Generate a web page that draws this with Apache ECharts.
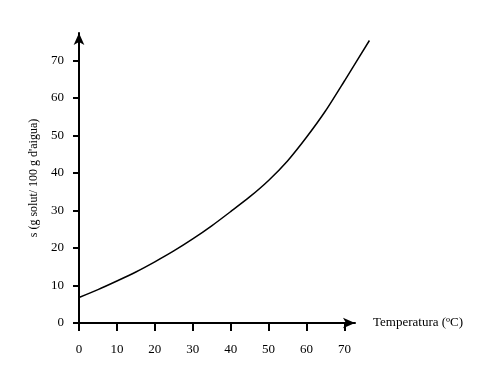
<!DOCTYPE html>
<html>
<head>
<meta charset="utf-8">
<script src="https://cdn.jsdelivr.net/npm/echarts@6/dist/echarts.min.js"></script>
<style>html,body{margin:0;padding:0;background:#fff}#c{width:480px;height:371px}</style>
</head>
<body>
<div id="c"></div>
<script>
var temperature = [0, 5, 10, 15, 20, 25, 30, 35, 40, 45, 50, 55, 60, 65, 70, 76.6];
var solubility = [6.8, 8.9, 11.2, 13.6, 16.3, 19.2, 22.4, 25.9, 29.7, 33.6, 38.0, 43.2, 49.5, 56.5, 64.5, 75.3];
var xTicks = [0, 10, 20, 30, 40, 50, 60, 70];
var yTicks = [0, 10, 20, 30, 40, 50, 60, 70];
var xName = 'Temperatura (ºC)';
var yName = "s (g solut/ 100 g d'aigua)";

var chart = echarts.init(document.getElementById('c'));
var font = 'Liberation Serif';
var pxX = 276 / 72.8;
chart.setOption({
  animation: false,
  backgroundColor: '#fff',
  grid: [
    { left: 79, right: 125, top: 33, bottom: 48, containLabel: false },
    { left: 79, width: 80 * pxX, top: 33, bottom: 48, containLabel: false }
  ],
  xAxis: [{
    gridIndex: 0, type: 'value', min: 0, max: 72.8,
    name: xName, nameLocation: 'end', nameGap: 18,
    nameTextStyle: { fontFamily: font, fontSize: 13, color: '#000', padding: [12, 0, 0, 0] },
    axisLine: { show: true, symbol: ['none', 'arrow'], symbolSize: [8, 12], lineStyle: { color: '#000', width: 2 } },
    axisTick: { show: true, customValues: xTicks, inside: false, length: 8, lineStyle: { color: '#000', width: 2 } },
    axisLabel: { customValues: xTicks, margin: 20, fontFamily: font, fontSize: 13, color: '#000' },
    splitLine: { show: false }
  }, {
    gridIndex: 1, type: 'value', min: 0, max: 80, show: false
  }],
  yAxis: [{
    gridIndex: 0, type: 'value', min: 0, max: 77.3,
    name: yName, nameLocation: 'middle', nameGap: 37, nameRotate: 90,
    nameTextStyle: { fontFamily: font, fontSize: 12, color: '#000' },
    axisLine: { show: true, symbol: ['none', 'arrow'], symbolSize: [8, 12], lineStyle: { color: '#000', width: 2 } },
    axisTick: { show: true, customValues: yTicks, length: 6, lineStyle: { color: '#000', width: 2 } },
    axisLabel: { customValues: yTicks, margin: 15, fontFamily: font, fontSize: 13, color: '#000' },
    splitLine: { show: false }
  }, {
    gridIndex: 1, type: 'value', min: 0, max: 77.3, show: false
  }],
  series: [{
    type: 'line',
    xAxisIndex: 1, yAxisIndex: 1,
    data: temperature.map(function (t, i) { return [t, solubility[i]]; }),
    smooth: 0.25,
    showSymbol: false,
    lineStyle: { color: '#000', width: 1.5 }
  }]
});
</script>
</body>
</html>
